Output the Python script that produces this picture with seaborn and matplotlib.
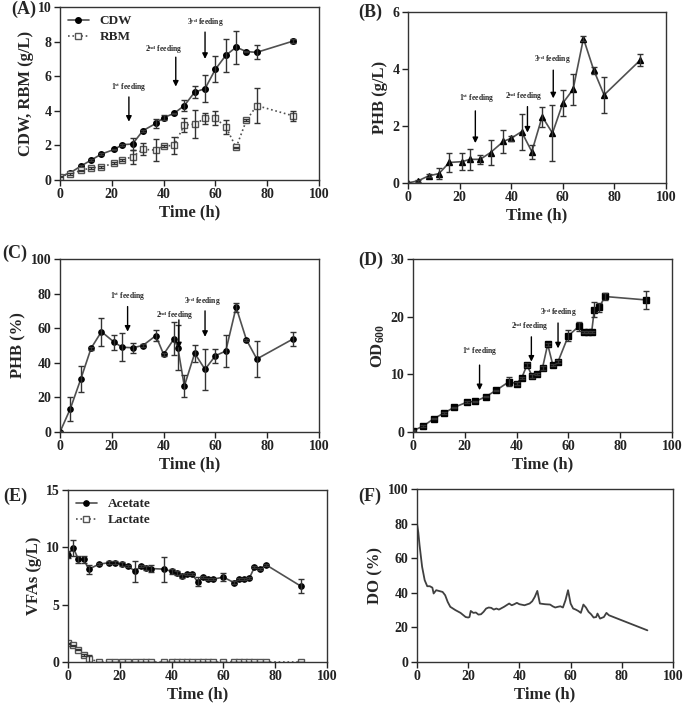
import matplotlib
matplotlib.use("Agg")
import matplotlib.pyplot as plt
import seaborn as sns
import numpy as np
import pandas as pd

# ---------------- data ----------------
# (A) CDW & RBM
a_time = [0, 4, 8, 12, 16, 21, 24, 28, 32, 37, 40, 44, 48, 52, 56, 60, 64, 68, 72, 76, 90]
cdw = [0.2, 0.42, 0.8, 1.15, 1.5, 1.77, 2.04, 2.08, 2.85, 3.27, 3.6, 3.85, 4.3, 5.08, 5.28, 6.4, 7.2, 7.68, 7.42, 7.38, 8.03]
cdw_err = [0.05, 0.05, 0.08, 0.05, 0.05, 0.05, 0.05, 0.35, 0.05, 0.25, 0.15, 0.05, 0.3, 0.35, 0.8, 0.75, 0.95, 0.95, 0.05, 0.4, 0.1]
rbm = [0.2, 0.35, 0.55, 0.7, 0.75, 0.98, 1.15, 1.35, 1.77, 1.73, 1.96, 2.0, 3.17, 3.23, 3.56, 3.56, 3.08, 1.88, 3.46, 4.3, 3.71]
rbm_err = [0.05, 0.05, 0.05, 0.05, 0.05, 0.05, 0.05, 0.4, 0.35, 0.65, 0.05, 0.5, 0.4, 0.8, 0.3, 0.4, 0.4, 0.05, 0.05, 1.0, 0.3]

# (B) PHB (g/L)
b_time = [0, 4, 8, 12, 16, 21, 24, 28, 32, 37, 40, 44, 48, 52, 56, 60, 64, 68, 72, 76, 90]
phb_gl = [0, 0.08, 0.25, 0.33, 0.72, 0.75, 0.83, 0.83, 1.07, 1.46, 1.57, 1.8, 1.1, 2.33, 1.75, 2.8, 3.29, 5.07, 3.96, 3.09, 4.31]
phb_gl_err = [0.02, 0.03, 0.05, 0.2, 0.33, 0.3, 0.38, 0.15, 0.45, 0.4, 0.08, 0.63, 0.25, 0.35, 0.97, 0.45, 0.55, 0.1, 0.12, 0.63, 0.22]

# (C) PHB (%)
c_time = [0, 4, 8, 12, 16, 21, 24, 28, 32, 37, 40, 44, 45.5, 48, 52, 56, 60, 64, 68, 72, 76, 90]
phb_pct = [0, 13.5, 30.5, 48.4, 58, 51.8, 49, 48.7, 50, 55.7, 44.9, 53.8, 48.7, 26.5, 45.5, 36.2, 44.1, 46.8, 72.1, 53.2, 42.2, 53.8]
phb_pct_err = [0.5, 7, 7.5, 0.8, 8, 4.5, 8, 3, 0.8, 3, 0.8, 9.5, 13, 6.5, 5, 12, 4, 9.5, 2.5, 0.8, 10.5, 4]

# (D) OD600
d_time = [0, 4, 8, 12, 16, 21, 24, 28, 32, 37, 40, 42, 44, 46, 48, 50, 52, 54, 56, 60, 64, 66, 67.5, 69, 70, 72, 74, 90]
od600 = [0.2, 1.05, 2.3, 3.3, 4.3, 5.2, 5.3, 6.1, 7.2, 8.7, 8.4, 9.4, 11.6, 9.7, 10.0, 11.1, 15.2, 11.6, 12.2, 16.7, 18.3, 17.4, 17.4, 17.4, 21.2, 21.6, 23.5, 22.9]
od600_err = [0.1, 0.1, 0.1, 0.1, 0.1, 0.1, 0.1, 0.1, 0.1, 0.8, 0.2, 0.2, 0.3, 0.3, 0.2, 0.3, 0.3, 0.2, 0.2, 1.0, 0.8, 0.2, 0.2, 0.2, 1.3, 0.8, 0.6, 1.5]

# (E) VFAs
e_time = [0, 2, 4, 6, 8, 12, 16, 18, 21, 23, 26, 28, 30, 32, 37, 40, 42, 44, 46, 48, 50, 52, 54, 56, 60, 64, 66, 68, 70, 72, 74, 76.5, 90]
acetate = [9.34, 9.98, 8.96, 8.96, 8.1, 8.53, 8.67, 8.67, 8.53, 8.38, 7.9, 8.35, 8.18, 8.15, 8.1, 7.9, 7.75, 7.5, 7.65, 7.65, 7.0, 7.4, 7.22, 7.22, 7.4, 6.93, 7.22, 7.22, 7.3, 8.27, 8.1, 8.47, 6.6]
acetate_err = [0.3, 0.7, 0.3, 0.3, 0.4, 0.1, 0.1, 0.1, 0.2, 0.1, 0.9, 0.1, 0.2, 0.3, 1.1, 0.2, 0.2, 0.2, 0.1, 0.1, 0.4, 0.1, 0.1, 0.1, 0.35, 0.1, 0.1, 0.1, 0.1, 0.1, 0.1, 0.1, 0.6]
lactate = [1.62, 1.45, 1.07, 0.64, 0.29, 0, 0, 0, 0, 0, 0, 0, 0, 0, 0, 0, 0, 0, 0, 0, 0, 0, 0, 0, 0, 0, 0, 0, 0, 0, 0, 0, 0]
lactate_err = [0.05, 0.05, 0.05, 0.1, 0.3, 0, 0, 0, 0, 0, 0, 0, 0, 0, 0, 0, 0, 0, 0, 0, 0, 0, 0, 0, 0, 0, 0, 0, 0, 0, 0, 0, 0]

# (F) DO
f_time = [0, 0.5, 1, 2, 3, 4, 5, 6, 6.5, 7.5, 8.5, 10, 11, 12, 13, 15, 17, 19, 20, 20.5, 21, 22, 23, 24, 25, 26, 27, 28,
          29, 30, 31, 32, 34, 36, 37, 38, 39, 40, 42, 44, 45, 46, 47, 48, 50, 52, 53, 54, 55, 56, 57, 58, 59, 60, 61,
          62, 63, 64, 65, 66, 67, 68, 69, 70, 70.5, 71.5, 73, 74, 75, 90]
do_pct = [80, 75, 67.5, 55, 47.3, 43.8, 43.8, 43, 39.6, 41.5, 41.1, 40.5, 38.6, 34.7, 31.9, 30, 28.4, 26, 25.7, 26, 29.5,
          28.4, 28.6, 27.4, 27.6, 29, 30.9, 31.5, 31.3, 30.3, 30.9, 30.3, 31.9, 33.8, 32.8, 33.4, 34.2, 33.4, 32.8, 33.8,
          35.1, 37.6, 41.1, 33.8, 33.4, 33.2, 32.2, 31.5, 31.9, 32.2, 31.5, 35.7, 41.5, 33.8, 30.9, 30.3, 29.5, 28.4, 33.2,
          31.5, 29, 27.6, 25.7, 26, 28, 25.1, 26, 28.4, 27, 18.3]

feed_labels = ["1$^{st}$ feeding", "2$^{nd}$ feeding", "3$^{rd}$ feeding"]

# ---------------- style ----------------
sns.set_theme(style="ticks")
plt.rcParams['font.family'] = ['Liberation Serif', 'DejaVu Serif']
plt.rcParams['font.weight'] = 'bold'
plt.rcParams['axes.labelweight'] = 'bold'
plt.rcParams['mathtext.fontset'] = 'custom'
plt.rcParams['mathtext.rm'] = 'Liberation Serif:bold'
plt.rcParams['mathtext.it'] = 'Liberation Serif:bold'
plt.rcParams['mathtext.bf'] = 'Liberation Serif:bold'
plt.rcParams['mathtext.default'] = 'regular'
plt.rcParams['axes.edgecolor'] = '#333333'
plt.rcParams['axes.linewidth'] = 1.0
plt.rcParams['xtick.color'] = '#222222'
plt.rcParams['ytick.color'] = '#222222'
plt.rcParams['xtick.major.size'] = 4
plt.rcParams['ytick.major.size'] = 4

LINE = '#505050'
W, H = 685, 708
fig = plt.figure(figsize=(W / 100, H / 100), dpi=100)


def add_ax(l, t, r, b):
    return fig.add_axes([l / W, 1 - b / H, (r - l) / W, (b - t) / H])


def series(ax, x, y, err, marker, ls='-', mfc='black', mec='black', ms=4, label=None, color=LINE):
    df = pd.DataFrame({'t': x, 'v': y})
    sns.lineplot(data=df, x='t', y='v', ax=ax, color=color, linestyle=ls, lw=1.2,
                 marker=marker, markersize=ms, markerfacecolor=mfc, markeredgecolor=mec,
                 markeredgewidth=1.0, label=label, legend=False, sort=False)
    if err is not None:
        ax.errorbar(x, y, yerr=err, fmt='none', ecolor='#333333', elinewidth=1.0, capsize=2.5, capthick=1.0)


def feeding(ax, items, fs=5.5):
    for lab, (xt, y0, y1, ly, lx) in zip(feed_labels, items):
        ax.annotate('', xy=(xt, y1), xytext=(xt, y0),
                    arrowprops=dict(arrowstyle='-|>', color='black', lw=1.0, mutation_scale=8, shrinkA=0, shrinkB=0))
        ax.text(lx, ly, lab, fontsize=fs, ha='center', va='bottom', fontweight='bold')


def finish(ax, ylab, yticks, ylim):
    ax.set_xlim(0, 100)
    ax.set_xticks([0, 20, 40, 60, 80, 100])
    ax.set_ylim(*ylim)
    ax.set_yticks(yticks)
    ax.set_xlabel('Time (h)', fontsize=12, fontweight='bold', labelpad=2)
    ax.set_ylabel(ylab, fontsize=12, fontweight='bold', labelpad=3)
    ax.tick_params(labelsize=10, width=1.0, pad=2)
    for lbl in ax.get_xticklabels() + ax.get_yticklabels():
        lbl.set_fontweight('bold')
    for s in ax.spines.values():
        s.set_visible(True)


# (A)
axA = add_ax(60, 7, 319, 180)
series(axA, a_time, cdw, cdw_err, 'o', label='CDW')
series(axA, a_time, rbm, rbm_err, 's', ls=':', mfc='white', mec='#555555', label='RBM')
feeding(axA, [(26.6, 4.8, 3.37, 5.0, 26.6), (44.7, 7.1, 5.4, 7.15, 40), (56, 8.55, 7.0, 8.75, 56)])
finish(axA, 'CDW, RBM (g/L)', [0, 2, 4, 6, 8, 10], (0, 10))
axA.legend(loc='upper left', frameon=False, fontsize=9.5, handlelength=1.6, borderaxespad=0.2,
           labelspacing=0.3, handletextpad=0.8)

# (B)
axB = add_ax(408, 12, 666, 183)
series(axB, b_time, phb_gl, phb_gl_err, '^', ms=4.5)
feeding(axB, [(26.1, 2.53, 1.4, 2.75, 26.5), (46.3, 2.68, 1.77, 2.8, 45), (56.3, 3.96, 2.97, 4.1, 56)])
finish(axB, 'PHB (g/L)', [0, 2, 4, 6], (0, 6))

# (C)
axC = add_ax(60, 259, 319, 432)
series(axC, c_time, phb_pct, phb_pct_err, 'o', ms=3.8)
feeding(axC, [(26.1, 72.5, 58, 74.5, 26.1), (45.9, 64.8, 48.4, 63.5, 44.5), (56, 70, 55, 71.5, 55)])
finish(axC, 'PHB (%)', [0, 20, 40, 60, 80, 100], (0, 100))

# (D)
axD = add_ax(413, 259, 672, 432)
series(axD, d_time, od600, od600_err, 's', ms=4.5)
feeding(axD, [(25.7, 11.6, 7.25, 12.8, 25.7), (45.7, 16.5, 12.2, 17.2, 45), (56, 18.9, 14.5, 19.6, 56)])
finish(axD, 'OD$_{600}$', [0, 10, 20, 30], (0, 30))

# (E)
axE = add_ax(68, 490, 327, 662)
series(axE, e_time, acetate, acetate_err, 'o', ms=3.8, label='Acetate')
series(axE, e_time, lactate, lactate_err, 's', ls=':', mfc='white', mec='#555555', ms=3.8, label='Lactate')
finish(axE, 'VFAs (g/L)', [0, 5, 10, 15], (0, 15))
axE.legend(loc='upper left', frameon=False, fontsize=9.5, handlelength=1.6, borderaxespad=0.2,
           labelspacing=0.3, handletextpad=0.8)

# (F)
axF = add_ax(417, 489, 673, 662)
sns.lineplot(x=f_time, y=do_pct, ax=axF, color='#404040', lw=1.3, sort=False)
finish(axF, 'DO (%)', [0, 20, 40, 60, 80, 100], (0, 100))

# panel letters
for txt, px, py in [('(A)', 11, 9), ('(B)', 358, 12), ('(C)', 2, 253), ('(D)', 358, 260), ('(E)', 3, 496), ('(F)', 358, 496)]:
    fig.text(px / W, 1 - py / H, txt, fontsize=13, fontweight='bold', ha='left', va='center')

fig.savefig('out.png', dpi=100)
